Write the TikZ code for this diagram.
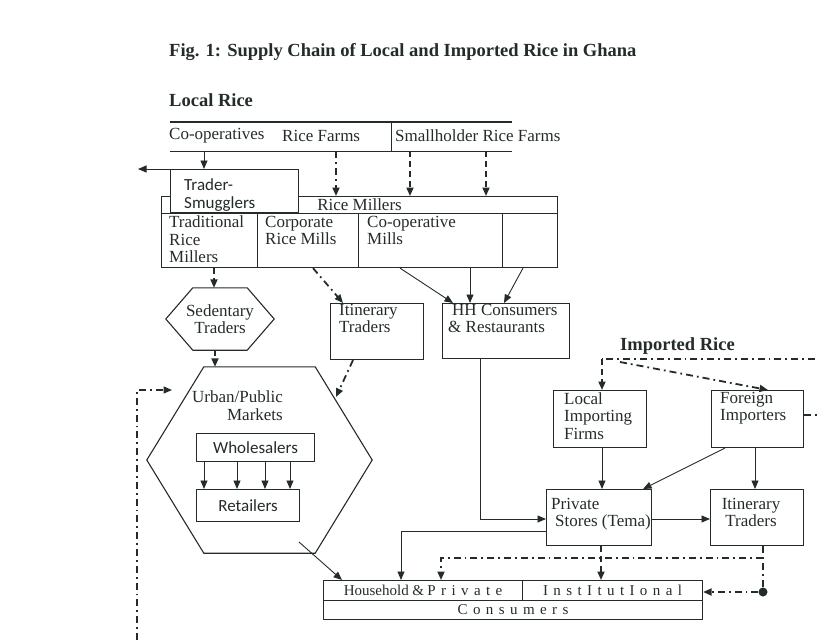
\documentclass[tikz,border=0pt]{standalone}
\usepackage{fontspec}
\setmainfont{Liberation Serif}
\setsansfont{Carlito}
\usetikzlibrary{arrows.meta}
\definecolor{ink}{RGB}{35,44,41}
\newcommand\bodysize{\fontsize{17}{17.5}\selectfont}
\newcommand\consfont{\fontsize{15}{16}\selectfont\spaceskip=5.4pt\relax}
\newcommand\hexshape[2]{\draw[ink,line width=1.1pt] (#1.west) -- ([xshift=#2]#1.north west) -- ([xshift=-#2]#1.north east) -- (#1.east) -- ([xshift=-#2]#1.south east) -- ([xshift=#2]#1.south west) -- cycle;}

\begin{document}
\begin{tikzpicture}
[x=1pt,y=-1pt,
every node/.style={inner sep=0pt,text=ink,font=\bodysize},
box/.style 2 args={draw=ink,line width=1.1pt,anchor=north west,minimum width=#1,minimum height=#2},
txt/.style={anchor=north west,align=left},
head/.style={anchor=west,font=\fontsize{18.5}{20}\selectfont\bfseries},
sans/.style={font=\sffamily\fontsize{17}{18}\selectfont},
cons/.style={font=\consfont},
link/.style={draw=ink,line width=0.9pt},
flow/.style={link,-{Triangle[length=8.5pt,width=7pt]}},
dashflow/.style={flow,line width=1.8pt,dash pattern=on 6pt off 4pt},
dotflow/.style={flow,line width=1.8pt,dash pattern=on 7pt off 4pt on 1.8pt off 4pt}]
\useasboundingbox (0,0) rectangle (820,640);

\node[head] (title) at (169,52) {Fig. 1: Supply Chain of Local and Imported Rice in Ghana};
\node[head] (localhd) at (169,100) {Local Rice};

\node[anchor=north west,minimum width=342pt,minimum height=29pt] (farms) at (170,122) {};
\draw[ink,line width=2.4pt] (farms.north west) -- (farms.north east);
\draw[link] (farms.south west) -- (farms.south east);
\coordinate (split) at (391,122);
\draw[link] (split) -- (split |- farms.south);
\node[anchor=west] (coop) at (169,136) {Co-operatives};
\node[anchor=west] (ricef) at (282,136) {Rice Farms};
\node[anchor=west] (small) at (395,136) {Smallholder Rice Farms};

\node[box={396pt}{17pt}] (millhd) at (161,196) {Rice Millers};
\node[box={96pt}{54pt}] (trad) at (161,213) {};
\node[box={101pt}{54pt}] (corp) at (257,213) {};
\node[box={144pt}{54pt}] (coopm) at (358,213) {};
\node[box={55pt}{54pt}] (spare) at (502,213) {};
\node[txt] (tradT) at ([xshift=8pt,yshift=-3pt]trad.north west) {Traditional\\Rice\\Millers};
\node[txt] (corpT) at ([xshift=8pt,yshift=-3pt]corp.north west) {Corporate\\Rice Mills};
\node[txt] (coopmT) at ([xshift=9pt,yshift=-3pt]coopm.north west) {Co-operative\\Mills};

\node[box={128pt}{43pt},fill=white] (trader) at (170,169) {};
\node[txt,sans] (traderT) at ([xshift=14pt,yshift=-9pt]trader.north west) {Trader-\\Smugglers};

\coordinate (coopout) at (204,151);
\coordinate (smug) at (138,169);
\draw[flow] (coopout) -- (coopout |- trader.north);
\draw[flow] (trader.north west) -- (smug);
\foreach \fx/\sty in {336/dotflow, 410/dashflow, 486/dashflow}
	\draw[\sty] (farms.south -| \fx,0) -- (millhd.north -| \fx,0);

\node[minimum width=108pt,minimum height=62pt,align=center] (sed) at (220,319) {Sedentary\\Traders};
\hexshape{sed}{27pt}
\node[box={93pt}{56pt}] (itinL) at (330,303) {};
\node[txt] (itinLT) at ([xshift=9pt,yshift=-1pt]itinL.north west) {Itinerary\\Traders};
\node[box={127pt}{55pt}] (hh) at (442,303) {};
\node[txt] (hhT) at ([xshift=6pt,yshift=-1pt]hh.north west) {\hspace{4pt}HH Consumers\\\& Restaurants};

\draw[dashflow] (trad.south -| 214,0) -- (sed.north -| 214,0);
\draw[dotflow] (corp.south -| 313,0) -- (itinL.north -| 343,0);
\foreach \sx/\ex in {400/453, 470/470, 523/504}
	\draw[flow] (coopm.south -| \sx,0) -- (hh.north -| \ex,0);

\node[minimum width=225pt,minimum height=186pt] (urban) at (259.5,460) {};
\hexshape{urban}{57pt}
\node[anchor=north east,align=right] (urbanT) at (283,391) {Urban/Public\\Markets};
\node[box={118pt}{28pt},sans] (whole) at (196,433) {Wholesalers};
\node[box={103pt}{32pt},sans] (retail) at (196,489) {Retailers};
\foreach \wx in {204,237,265,290}
	\draw[flow] (whole.south -| \wx,0) -- (retail.north -| \wx,0);

\coordinate (urbanR) at (336,397);
\draw[dashflow] (sed.south -| 215,0) -- (urban.north -| 215,0);
\draw[dotflow] (itinL.south -| 353,0) -- (urbanR);
\coordinate (feedlow) at (137,640);
\coordinate (feedtop) at (137,390);
\coordinate (feedin) at (172,390);
\draw[dotflow,line width=1.4pt] (feedlow) -- (feedtop) -- (feedin);

\node[head] (imphd) at (620,346) {Imported Rice};
\node[box={93pt}{57pt}] (lif) at (553,390) {};
\node[txt] (lifT) at ([xshift=11pt,yshift=-2pt]lif.north west) {Local\\Importing\\Firms};
\node[box={92pt}{57pt}] (fi) at (711,390) {};
\node[txt] (fiT) at ([xshift=9pt,yshift=-2pt]fi.north west) {Foreign\\Importers};
\coordinate (impc) at (602,359);
\coordinate (impe) at (815,359);
\coordinate (impd) at (620,362);
\coordinate (fiout) at (820,415);
\draw[dotflow,-] (impe) -- (impc);
\draw[dashflow] (impc) -- (lif.north -| impc);
\draw[dotflow] (impd) -- (fi.north -| 768,0);
\draw[dotflow,-] (fi.east |- fiout) -- (fiout);

\node[box={105pt}{56pt}] (ps) at (546,489) {};
\node[txt] (psT) at ([xshift=5pt,yshift=-9pt]ps.north west) {Private\\\hspace{4pt}Stores (Tema)};
\node[box={93pt}{56pt}] (itinR) at (710,489) {};
\node[anchor=north,align=center] (itinRT) at ([xshift=-6pt,yshift=-9pt]itinR.north) {Itinerary\\Traders};

\draw[flow] (lif.south -| 602,0) -- (ps.north -| 602,0);
\draw[flow] ([xshift=14pt]fi.south west) -- ([xshift=-9pt]ps.north east);
\draw[flow] (fi.south -| 755,0) -- (itinR.north -| 755,0);
\draw[flow] (ps.east |- 0,519) -- (itinR.west |- 0,519);
\draw[flow] (hh.south -| 480,0) |- (ps.west |- 0,519);

\node[box={199pt}{20pt},cons] (hp) at (323,580) {Household\hspace{3.5pt}\&\hspace{3.5pt}P r i v a t e};
\node[box={180pt}{20pt},cons] (inst) at (522,580) {I n s t I t u t I o n a l};
\node[box={379pt}{19pt},cons] (consu) at (323,600) {C o n s u m e r s};
\node[circle,fill=ink,minimum size=9pt] (dot) at (763,592) {};
\coordinate (urbanout) at (299,542);
\coordinate (backturn) at (763,558);

\draw[flow] (urbanout) -- (hp.north -| 342,0);
\draw[flow] (ps.west |- 0,531) -| (hp.north -| 401,0);
\draw[dashflow] (ps.south -| 601,0) -- (inst.north -| 601,0);
\draw[dotflow,-] (itinR.south -| dot) -- (dot);
\draw[dotflow] (backturn) -| (hp.north -| 441,0);
\draw[dotflow] (dot) -- (inst.east |- dot);

\end{tikzpicture}
\end{document}
